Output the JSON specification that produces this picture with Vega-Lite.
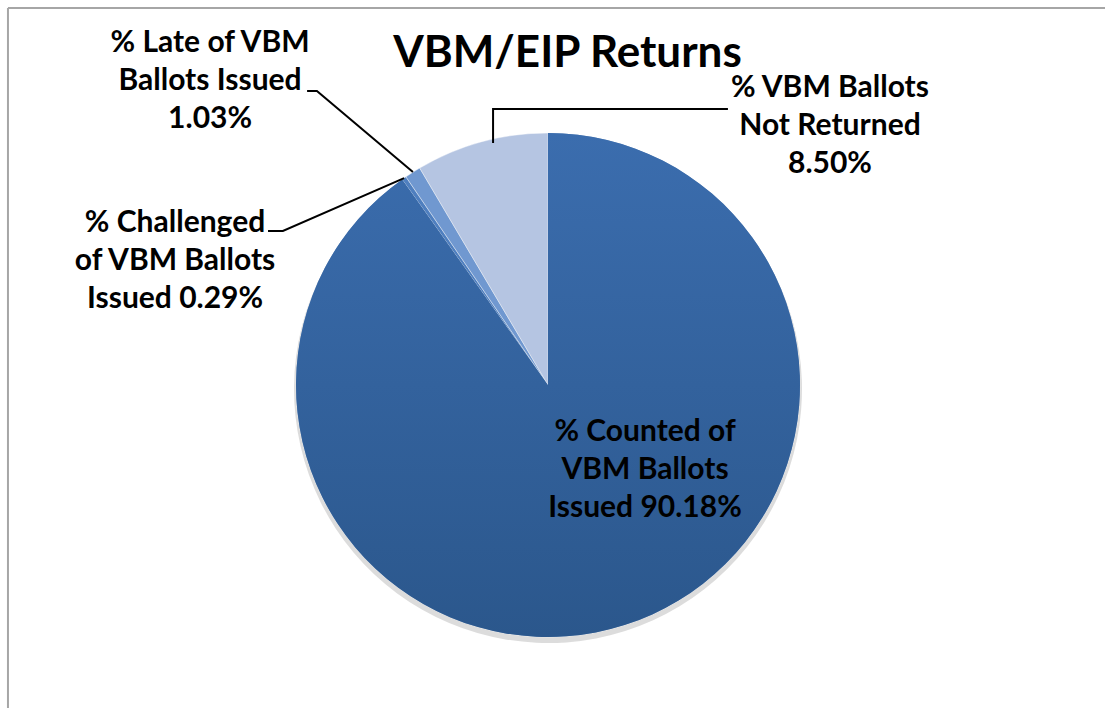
{
  "$schema": "https://vega.github.io/schema/vega-lite/v6.json",
  "width": 1105,
  "height": 708,
  "padding": 0,
  "autosize": {"type": "none"},
  "background": "white",
  "config": {"view": {"stroke": null}},
  "title": {
    "text": "VBM/EIP Returns",
    "font": "Lato",
    "fontSize": 44,
    "fontWeight": "bold",
    "color": "#000000",
    "anchor": "middle",
    "offset": -76,
    "dx": 15
  },
  "datasets": {
    "slices": [
      {"category": "% Counted of VBM Ballots Issued", "value": 90.18, "order": 1},
      {"category": "% Challenged of VBM Ballots Issued", "value": 0.29, "order": 2},
      {"category": "% Late of VBM Ballots Issued", "value": 1.03, "order": 3},
      {"category": "% VBM Ballots Not Returned", "value": 8.50, "order": 4}
    ],
    "labels": [
      {"label": "% Counted of\nVBM Ballots\nIssued 90.18%", "u": 0.385, "v": -0.187},
      {"label": "% Challenged\nof VBM Ballots\nIssued 0.29%", "u": -1.48, "v": 0.643},
      {"label": "% Late of VBM\nBallots Issued\n1.03%", "u": -1.341, "v": 1.357},
      {"label": "% VBM Ballots\nNot Returned\n8.50%", "u": 1.119, "v": 1.179}
    ],
    "leaders": [
      {"leader": "late", "seq": 1, "u": -0.956, "v": 1.167},
      {"leader": "late", "seq": 2, "u": -0.917, "v": 1.167},
      {"leader": "late", "seq": 3, "u": -0.536, "v": 0.845},
      {"leader": "notreturned", "seq": 1, "u": 0.714, "v": 1.095},
      {"leader": "notreturned", "seq": 2, "u": -0.218, "v": 1.095},
      {"leader": "notreturned", "seq": 3, "u": -0.218, "v": 0.96},
      {"leader": "challenged", "seq": 1, "u": -1.111, "v": 0.611},
      {"leader": "challenged", "seq": 2, "u": -1.052, "v": 0.611},
      {"leader": "challenged", "seq": 3, "u": -0.571, "v": 0.821}
    ]
  },
  "layer": [
    {
      "data": {"values": [{}]},
      "mark": {"type": "rule", "color": "#A6A6A6", "strokeWidth": 2},
      "encoding": {
        "y": {"datum": 1.496, "type": "quantitative", "scale": {"domain": [-1.2817, 1.5278], "nice": false, "zero": false}, "axis": null},
        "x": {"datum": -2.143, "type": "quantitative", "scale": {"domain": [-2.1746, 2.2103], "nice": false, "zero": false}, "axis": null},
        "x2": {"datum": 2.2103}
      }
    },
    {
      "data": {"values": [{}]},
      "mark": {"type": "rule", "color": "#A6A6A6", "strokeWidth": 2},
      "encoding": {
        "x": {"datum": -2.143, "type": "quantitative", "scale": {"domain": [-2.1746, 2.2103], "nice": false, "zero": false}, "axis": null},
        "y": {"datum": 1.496, "type": "quantitative", "scale": {"domain": [-1.2817, 1.5278], "nice": false, "zero": false}, "axis": null},
        "y2": {"datum": -1.2817}
      }
    },
    {
      "data": {"name": "slices"},
      "transform": [
        {"stack": "value", "groupby": [], "sort": [{"field": "order"}], "as": ["v0", "v1"]}
      ],
      "mark": {"type": "arc", "radius": 254, "fill": "#9A9A9A", "fillOpacity": 0.35},
      "encoding": {
        "x": {"datum": 0, "type": "quantitative", "scale": {"domain": [-2.1746, 2.2103], "nice": false, "zero": false}, "axis": null},
        "y": {"datum": -0.016, "type": "quantitative", "scale": {"domain": [-1.2817, 1.5278], "nice": false, "zero": false}, "axis": null},
        "theta": {"field": "v0", "type": "quantitative", "scale": {"domain": [0, 100]}},
        "theta2": {"field": "v1"}
      }
    },
    {
      "data": {"name": "slices"},
      "transform": [
        {"stack": "value", "groupby": [], "sort": [{"field": "order"}], "as": ["v0", "v1"]}
      ],
      "mark": {"type": "arc", "radius": 252, "stroke": "#FFFFFF", "strokeWidth": 0.8, "strokeOpacity": 0.5},
      "encoding": {
        "x": {"datum": 0, "type": "quantitative", "scale": {"domain": [-2.1746, 2.2103], "nice": false, "zero": false}, "axis": null},
        "y": {"datum": 0, "type": "quantitative", "scale": {"domain": [-1.2817, 1.5278], "nice": false, "zero": false}, "axis": null},
        "theta": {"field": "v0", "type": "quantitative", "scale": {"domain": [0, 100]}},
        "theta2": {"field": "v1"},
        "color": {
          "field": "category",
          "type": "nominal",
          "scale": {
            "domain": ["% Counted of VBM Ballots Issued", "% Challenged of VBM Ballots Issued", "% Late of VBM Ballots Issued", "% VBM Ballots Not Returned"],
            "range": ["#3465A4", "#4F7FBF", "#7098D0", "#B5C5E2"]
          },
          "legend": null
        }
      }
    },
    {
      "data": {"name": "slices"},
      "transform": [
        {"stack": "value", "groupby": [], "sort": [{"field": "order"}], "as": ["v0", "v1"]},
        {"filter": "datum.order == 1"}
      ],
      "mark": {
        "type": "arc",
        "radius": 252,
        "fill": {
          "gradient": "linear",
          "x1": 0, "y1": 0, "x2": 0, "y2": 1,
          "stops": [
            {"offset": 0, "color": "#3B6DAE"},
            {"offset": 1, "color": "#2B578C"}
          ]
        }
      },
      "encoding": {
        "x": {"datum": 0, "type": "quantitative", "scale": {"domain": [-2.1746, 2.2103], "nice": false, "zero": false}, "axis": null},
        "y": {"datum": 0, "type": "quantitative", "scale": {"domain": [-1.2817, 1.5278], "nice": false, "zero": false}, "axis": null},
        "theta": {"field": "v0", "type": "quantitative", "scale": {"domain": [0, 100]}},
        "theta2": {"field": "v1"}
      }
    },
    {
      "data": {"name": "leaders"},
      "mark": {"type": "line", "color": "#000000", "strokeWidth": 2},
      "encoding": {
        "x": {"field": "u", "type": "quantitative", "scale": {"domain": [-2.1746, 2.2103], "nice": false, "zero": false}, "axis": null},
        "y": {"field": "v", "type": "quantitative", "scale": {"domain": [-1.2817, 1.5278], "nice": false, "zero": false}, "axis": null},
        "detail": {"field": "leader"},
        "order": {"field": "seq"}
      }
    },
    {
      "data": {"name": "labels"},
      "mark": {
        "type": "text",
        "font": "Lato",
        "fontSize": 30,
        "fontWeight": "bold",
        "color": "#000000",
        "align": "center",
        "baseline": "middle",
        "lineBreak": "\n",
        "lineHeight": 38
      },
      "encoding": {
        "x": {"field": "u", "type": "quantitative", "scale": {"domain": [-2.1746, 2.2103], "nice": false, "zero": false}, "axis": null},
        "y": {"field": "v", "type": "quantitative", "scale": {"domain": [-1.2817, 1.5278], "nice": false, "zero": false}, "axis": null},
        "text": {"field": "label"}
      }
    }
  ]
}
